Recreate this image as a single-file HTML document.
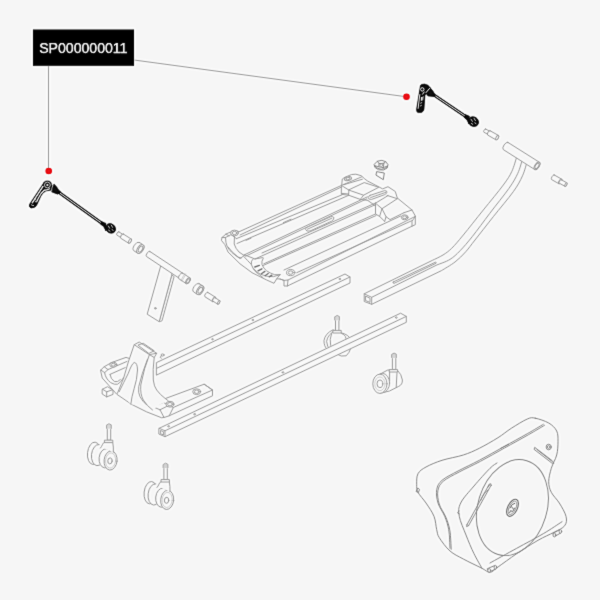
<!DOCTYPE html>
<html>
<head>
<meta charset="utf-8">
<title>SP000000011</title>
<style>
html,body{margin:0;padding:0;width:600px;height:600px;overflow:hidden;background:#f6f6f6;}
#stage{position:relative;width:600px;height:600px;background:#f6f6f6;overflow:hidden;}
#art{position:absolute;left:0;top:0;}
.g{fill:none;stroke:#a0a0a0;stroke-width:0.95;stroke-linejoin:round;stroke-linecap:round;}
.gf{fill:#f6f6f6;stroke:#a0a0a0;stroke-width:0.95;stroke-linejoin:round;stroke-linecap:round;}
.gl{fill:none;stroke:#b8b8b8;stroke-width:0.6;stroke-linejoin:round;stroke-linecap:round;}
.k{fill:#111;stroke:#111;stroke-width:0.6;stroke-linejoin:round;}
.w{fill:none;stroke:#f6f6f6;stroke-width:0.7;stroke-linecap:round;}
.lead{fill:none;stroke:#929292;stroke-width:0.8;}
.bag .g,.bag .gf{stroke:#8e8e8e;}
.dot{fill:#e8141c;}
#tagtxt{font-family:"Liberation Sans",sans-serif;font-size:14.2px;fill:#fff;stroke:#fff;stroke-width:0.25px;letter-spacing:-0.05px;}
</style>
</head>
<body>
<div id="stage">
<svg id="art" width="600" height="600" viewBox="0 0 600 600">
<defs>
<filter id="sharp" x="-20" y="-20" width="640" height="640" filterUnits="userSpaceOnUse" color-interpolation-filters="sRGB">
<feGaussianBlur in="SourceGraphic" stdDeviation="1.2" result="b"/>
<feComposite in="SourceGraphic" in2="b" operator="arithmetic" k1="0" k2="1.5" k3="-0.5" k4="0" result="s"/>
<feConvolveMatrix in="s" order="3" kernelMatrix="0.025 0.085 0.025 0.085 0.56 0.085 0.025 0.085 0.025" divisor="1" edgeMode="duplicate" preserveAlpha="true"/>
</filter>
</defs>
<g filter="url(#sharp)">
<rect x="-20" y="-20" width="640" height="640" fill="#f6f6f6"/>
<g id="leaders">
<line class="lead" x1="48.5" y1="66" x2="48.5" y2="168"/>
<line class="lead" x1="134" y1="60" x2="403.5" y2="96.4"/>
<circle class="dot" cx="48.7" cy="171" r="3.3"/>
<circle class="dot" cx="406.5" cy="96.7" r="3.3"/>
</g>
<g id="gray">
<g id="adapter1"><path class="gf" d="M118.8 231.8 L123 234.5 A0.9 1.9 32.5 0 1 121 237.7 L116.8 235 A0.9 1.9 32.5 0 1 118.8 231.8 Z"/>
<ellipse class="gf" cx="122" cy="236.1" rx="0.9" ry="1.9" transform="rotate(32.5 122 236.1)"/>
<path class="gf" d="M123.3 234 L131.3 239.1 A1.1 2.5 32.5 0 1 128.6 243.2 L120.7 238.2 A1.1 2.5 32.5 0 1 123.3 234 Z"/>
<ellipse class="gf" cx="129.9" cy="241.1" rx="1.1" ry="2.5" transform="rotate(32.5 129.9 241.1)"/></g>
<g id="spacer1"><path class="gf" d="M139.3 242.4 L143 244.7 A2.8 5 32.5 0 1 137.6 253.2 L133.9 250.8 A2.8 5 32.5 0 1 139.3 242.4 Z"/>
<ellipse class="gf" cx="140.3" cy="249" rx="2.8" ry="5" transform="rotate(32.5 140.3 249)"/><ellipse class="g" cx="140.5" cy="249.1" rx="1.8" ry="3.3" transform="rotate(32.5 140.5 249.1)"/></g>
<g id="tpost"><path class="gf" d="M174 277 L162 320.8 L159.2 321.7 L171.7 275.3 Z"/><path class="gf" d="M160.7 266 L147.2 314.2 L159.2 321.7 L171.7 275.3 L172 272 Z"/><circle class="g" cx="155.3" cy="308.3" r="0.8"/></g>
<g id="ttube"><path class="gf" d="M149.9 251.5 L182.4 273 A1.4 3 33.5 0 1 179 278.1 L146.5 256.5 A1.4 3 33.5 0 1 149.9 251.5 Z"/><path class="gf" d="M182.6 273.1 L189.9 277.9 A1.7 3.4 33.5 0 1 186.2 283.6 L178.8 278.7 A1.7 3.4 33.5 0 1 182.6 273.1 Z"/>
<ellipse class="gf" cx="188" cy="280.8" rx="1.7" ry="3.4" transform="rotate(33.5 188 280.8)"/><ellipse class="g" cx="188.2" cy="280.9" rx="1.2" ry="2.4" transform="rotate(33.5 188.2 280.9)"/><path class="gl" d="M184.9 273.4 L180.9 280.5 M185.9 274.1 L181.9 281.2"/></g>
<g id="spacer2"><path class="gf" d="M199.1 283.6 L202.8 285.9 A2.8 5 32.5 0 1 197.4 294.4 L193.7 292 A2.8 5 32.5 0 1 199.1 283.6 Z"/>
<ellipse class="gf" cx="200.1" cy="290.2" rx="2.8" ry="5" transform="rotate(32.5 200.1 290.2)"/><ellipse class="g" cx="200.3" cy="290.3" rx="1.8" ry="3.3" transform="rotate(32.5 200.3 290.3)"/></g>
<g id="adapter2"><path class="gf" d="M207.8 292.4 L215.4 297.2 A1.2 2.6 32.5 0 1 212.6 301.6 L205 296.8 A1.2 2.6 32.5 0 1 207.8 292.4 Z"/>
<ellipse class="gf" cx="214" cy="299.4" rx="1.2" ry="2.6" transform="rotate(32.5 214 299.4)"/>
<path class="gf" d="M215.1 297.7 L219.8 300.8 A0.9 2 32.5 0 1 217.6 304.1 L212.9 301.1 A0.9 2 32.5 0 1 215.1 297.7 Z"/>
<ellipse class="gf" cx="218.7" cy="302.4" rx="0.9" ry="2" transform="rotate(32.5 218.7 302.4)"/></g>
<g id="tray"><path class="gf" d="M221.5 240 L222 237.5 L226 234 L231.5 231.6 L236 230.4 L239 231.8 L341.7 185.3 L342.3 179 L345 177.2 L351.6 174.5 L355.8 174.2 L361.2 175.7 L364.2 178.4 L367.2 180.8 L382.7 188.9 L388 186.7 L395.3 191.5 L397.3 198 L412 210 L415.3 216 L415.3 224.7 L412 226.2 L287.4 286 L284 286 L284 280.4 L280 279 L276.7 278.8 L274 283.3 L266.7 280 L252 272.7 L240 263.8 L228 252 L225 245 Z"/>
<line class="g" x1="240" y1="235" x2="341.7" y2="186.9"/>
<line class="g" x1="236.5" y1="238.6" x2="341.6" y2="195"/>
<line class="g" x1="237" y1="243.5" x2="348.5" y2="195.4"/>
<line class="g" x1="244" y1="255" x2="367.4" y2="196.8"/>
<line class="g" x1="245.6" y1="256.2" x2="366.8" y2="198.8"/>
<line class="g" x1="262" y1="253" x2="375.5" y2="203"/>
<line class="g" x1="255" y1="259" x2="375.5" y2="204.6"/>
<line class="g" x1="263.8" y1="263.8" x2="375.5" y2="214"/>
<line class="g" x1="263.3" y1="265.4" x2="376" y2="215.6"/>
<line class="g" x1="284" y1="270" x2="400.7" y2="216"/>
<line class="g" x1="296.7" y1="272.7" x2="412" y2="220.6"/>
<line class="g" x1="288" y1="280" x2="415.3" y2="216.4"/>
<path class="g" d="M225.5 237.5 Q225.6 243 227 246 Q229 250 232 252.6 Q236 256 240 258.5 L245 255"/>
<path class="g" d="M228 247 Q232 252.5 238 257 L241 258.2"/>
<path class="g" d="M234.5 236 L234.2 244 Q235.5 248.5 239 252 L244 255.4"/>
<path class="g" d="M222 237.5 L225.5 237.5 L231 234.6 L236.5 238.6 M226 234 L229 236"/>
<ellipse class="gf" cx="234.5" cy="233" rx="3.9" ry="2.9"/><ellipse class="g" cx="234.5" cy="233" rx="2.3" ry="1.6"/>
<path class="g" d="M245 255 L255 259 L262.5 257.6"/>
<path class="g" d="M253.3 258.7 Q250.6 261 251.3 264.4 Q252.6 268.6 256 272 Q259.6 275 263 277.6"/>
<path class="g" d="M263.3 258 Q261.2 261.4 262 264.7 Q263.6 268.6 266.7 270.9 Q270 273.2 274.7 274.7 L280 274.7"/>
<path class="g" d="M244 256.7 Q247.6 260.6 251.3 264.4 M253.3 268.7 Q256.6 272 260 274 Q266 277 273.3 276.7 L280 274.7"/>
<path fill="none" stroke="#7e7e7e" stroke-width="1.35" stroke-linecap="round" d="M254.8 267 L259.4 265.4 M258 270.8 L261.9 268.8 M261.4 273.7 L264.9 271.4 M265.1 275.7 L268.2 273.5 M269.3 276.9 L271.9 275.1"/>
<path class="g" d="M276.7 278.8 L280 274.7 M284 280.4 L288 280 L287.4 286 M280 279 L284 280.4"/>
<ellipse class="gf" cx="290.7" cy="272.6" rx="4.2" ry="3.1"/><ellipse class="g" cx="290.7" cy="272.6" rx="2.5" ry="1.7"/>
<path class="gf" d="M306.4 227.6 L331 216.6 Q334.6 216.2 333.6 219 Q333 220.4 331.6 221.2 L310 231 Q306 231.8 305.6 229.4 Q305.6 228.2 306.4 227.6 Z"/>
<path class="g" d="M307.4 229.2 L331.8 218.2"/>
<path class="g" d="M283.4 222.6 L291 219.2 M246 240.4 L251 238.2"/>
<path class="g" d="M341.7 185.3 L361.8 176.8 M341.7 185.6 L348.9 190.1 L348.6 195.2 L341.7 194.4 Z M343.8 184.7 L362.4 179.2 M341.7 193.4 L348.6 194"/>
<path class="g" d="M348.9 190.1 L363.6 195.2 L378.7 187.3 L364.6 182.7 Z M348.6 195.2 L360.3 199.4 L363.6 195.2 M360.3 199.4 L368 200.4"/>
<ellipse class="gf" cx="348" cy="178.7" rx="3.6" ry="1.9" transform="rotate(-14 348 178.7)"/><ellipse class="g" cx="348" cy="178.7" rx="2.1" ry="1.1" transform="rotate(-14 348 178.7)"/>
<path class="gf" d="M370 195.4 L384.6 190.6 Q387.6 190.6 386.8 192.8 Q386 194 384.8 194.6 L371.6 199.4 Q368.4 199.8 368.2 197.6 Q368.4 196 370 195.4 Z"/>
<path class="g" d="M370.6 197.6 L385.6 192.4"/>
<path class="g" d="M368 200.6 L374.7 205.3 M387 195.4 L397.3 198.7"/>
<path class="g" d="M375.5 203.2 L382 208.7 L386 216.7 L390 219.6 L404 212.7 M382 208.7 L397.3 198.7 M375.5 203.2 L375.5 214 L379.6 216.4 L384.7 221.4 M379.6 216.4 L382 208.7 M384.7 221.4 L386 216.7 M375.5 203.2 L388 195.6"/>
<path class="g" d="M404 212.7 L412 210 M412 226.2 L412 221.3 L415.3 216.4"/>
<ellipse class="gf" cx="404.7" cy="217.3" rx="3.4" ry="2.5"/><ellipse class="g" cx="404.7" cy="217.3" rx="2" ry="1.4"/></g>
<g id="caster3"><g><path class="gf" d="M332.6 330 Q325.2 333.4 324 340.4 Q323.8 346.4 327.6 349.8 L341.2 356 L346.2 355.8 Q352.8 349.4 350.8 339.4 Q348.2 334.4 341.8 333 Z"/><path class="g" d="M334.8 330.8 Q327.6 334.4 326.6 341.4 Q326.8 346.4 330.2 350"/><path class="g" d="M331.6 333.4 Q329.2 339.4 330.6 345.4"/><path class="g" d="M341.6 333.4 Q347.2 335.4 345.8 341.4 Q344.2 345.4 340.2 347.4"/><path class="gf" d="M335 316.6 Q337.2 314.2 339.4 316.6 L339.4 320.2 L338.9 320.8 L338.9 331.9 L335.5 331.9 L335.5 320.8 L335 320.2 Z"/><path class="gl" d="M335 316.8 h4.4 M335 317.8 h4.4 M335 318.8 h4.4 M335 319.8 h4.4"/><path class="gf" d="M333.2 330.4 h8 v2.6 h-8 Z"/></g></g>
<g id="railU"><path class="gf" d="M156.7 362.5 L345 274 L350 277 L350 283 L156.7 375 Z"/><path class="g" d="M156.7 368.3 L350 277 M340 279 m-0.8 0 a0.8 0.6 0 1 0 1.6 0 a0.8 0.6 0 1 0 -1.6 0 M253 320 m-0.8 0 a0.8 0.6 0 1 0 1.6 0 a0.8 0.6 0 1 0 -1.6 0 M212.6 339.2 m-0.8 0 a0.8 0.6 0 1 0 1.6 0 a0.8 0.6 0 1 0 -1.6 0"/></g>
<g id="forkmount"><path class="gf" d="M102.5 389.2 L107.5 386.7 L113 390 L113 394.4 L106.7 396.9 L102.5 394.2 Z"/><path class="g" d="M102.5 389.2 L106.7 391.8 L106.7 396.9 M106.7 391.8 L113 389.6"/><path class="gf" d="M100.8 370 L104.2 366.7 L111.7 362.5 L126 357.4 L134 360 L140 392 L159.2 400.8 L204.2 384.2 L212.5 390 L212.5 395.8 L169.2 415.8 L165 417.2 L161.7 417.8 L146.7 411.9 L131.7 404.4 L116.7 394.2 L102.5 378.3 Z"/><path class="g" d="M212.5 390 L173.3 407.5 L169.2 415.8 M173.3 407.5 L168 405 M204.2 384.2 L212.5 390"/><path class="g" d="M158 404.6 L163.6 402.4 L167.4 405 M152.6 406.6 L160 409.8 L164 417.4 M160 409.8 L168.4 405.6"/><ellipse class="gf" cx="170" cy="404.2" rx="4" ry="2.9" transform="rotate(0 170 404.2)"/><ellipse class="g" cx="170" cy="404.2" rx="2.4" ry="1.7" transform="rotate(0 170 404.2)"/><ellipse class="gf" cx="196.7" cy="391.7" rx="4" ry="2.9" transform="rotate(0 196.7 391.7)"/><ellipse class="g" cx="196.7" cy="391.7" rx="2.4" ry="1.7" transform="rotate(0 196.7 391.7)"/><path class="g" d="M104.2 366.7 L108 369.6 L127 361.4 M100.8 370 L104.6 372.6 L108 369.6 M104.6 372.6 Q105.4 378.6 110.6 382.6 Q114.6 385 117.6 384.2 Q121 382.4 123.6 377.6"/><path class="g" d="M110 374.4 Q110.6 379 114.4 381.6 Q117.6 382.6 120.4 379.6 M110 374.4 L125.2 367.6"/><ellipse class="gf" cx="113.3" cy="364.7" rx="3.6" ry="2.5" transform="rotate(0 113.3 364.7)"/><ellipse class="g" cx="113.3" cy="364.7" rx="2.1" ry="1.4" transform="rotate(0 113.3 364.7)"/><path fill="#f6f6f6" stroke="none" d="M134.2 344.7 L139.2 342 L156.7 353.3 L154.2 357.5 Q152.6 370 153.3 380 Q154 386.6 156.7 390 Q160 394.6 165 398.3 L168.3 400.8 L160 404.6 L152.5 410 L131 404 L118 392.6 Q124.6 378 128.3 362 Z"/><path class="g" d="M117.4 393.4 Q124.6 378 128.3 362 L134.2 344.7 L139.2 342 L156.7 353.3 L154.2 357.5 Q152.6 370 153.3 380 Q154 386.6 156.7 390 Q160 394.6 165 398.3 L168.3 400.8"/><path class="g" d="M149.4 354.6 Q144 368 140.8 385 Q140 394 143.3 400 Q147 406 152.5 410"/><path class="g" d="M147.5 359.2 Q141.6 374 138.7 386.7 Q138 393 140 396.7 Q142.6 401.6 146.7 405"/><path class="g" d="M134.2 344.7 L149.4 354.6 L156.7 353.3 M149.4 354.6 L154.2 357.5"/><path class="g" d="M138.3 345 L143.3 343.3 L154.2 350.8 L149.2 353.3 Z"/><path class="g" d="M119.2 391.7 Q124 382 128.3 373.3 Q131.6 364 134.2 362.5 Q137.4 362.6 137.5 370 Q137 380 134.2 388.3 Q131.6 397 130.8 404.2"/><ellipse class="gf" cx="162.6" cy="355" rx="1.5" ry="1.1" transform="rotate(0 162.6 355)"/><path class="g" d="M161.4 355.6 L160.2 357.4 L161.4 358.2"/></g>
<g id="handle"><path class="gf" d="M516.9 156.4 C516 158.9 514 166.9 511.7 171.7 C509.4 176.5 508 178.6 503.3 185 C498.6 191.4 490 201.7 483.3 210 C476.6 218.3 468.6 228.6 463.3 235 C458 241.4 455.1 245 451.7 248.3 C448.3 251.6 446.2 253 443 255 C439.8 257 434.1 259.5 432.3 260.4 L364.2 293.8 L364.2 301.5 L371.7 304.3 L441.7 270.5 L441.7 270.5 C443.9 269.1 451 265.1 455 262 C459 258.9 462.5 255.4 465.8 251.7 C469.1 248 470.4 245.8 475 240 C479.6 234.2 486.9 224.8 493.3 216.7 C499.7 208.6 508.4 198.5 513.3 191.7 C518.2 184.9 520.2 180.8 522.5 175.8 C524.8 170.9 526.2 164.3 527 162 Z"/><path class="g" d="M522.6 158.6 C521.8 161.1 520.1 168.4 517.8 173.3 C515.5 178.2 513.7 181.6 509 188.3 C504.3 195 495.9 205.2 489.8 213.3 C483.7 221.4 477.2 230.4 472.2 236.7 C467.2 242.9 463.7 247 460 250.8 C456.3 254.6 453.8 257 450 259.4 C446.2 261.8 439.2 264 437 264.9 L371.7 297.3"/><path class="g" d="M364.2 293.8 L371.7 297.3 L371.7 304.3 M365.8 296.2 L370 298.2 L370 302.4 L365.8 300.6 Z"/><path class="g" d="M393.2 282 L435.4 262.2 Q436.8 262.2 436 263.3 L394 283.4 Q392.4 283.2 393.2 282 Z"/><path class="gf" d="M507.9 142.4 L539.3 162.2 A2.1 4.3 32.3 0 1 534.7 169.5 L503.3 149.6 A2.1 4.3 32.3 0 1 507.9 142.4 Z"/>
<ellipse class="gf" cx="537" cy="165.9" rx="2.1" ry="4.3" transform="rotate(32.3 537 165.9)"/><ellipse class="g" cx="537" cy="165.9" rx="1.5" ry="3.1" transform="rotate(32.3 537 165.9)"/></g>
<g id="adapter3"><path class="gf" d="M485.7 129 L489.7 131.3 A0.8 1.8 29.5 0 1 487.9 134.4 L483.9 132.2 A0.8 1.8 29.5 0 1 485.7 129 Z"/>
<ellipse class="gf" cx="488.8" cy="132.9" rx="0.8" ry="1.8" transform="rotate(29.5 488.8 132.9)"/>
<path class="gf" d="M490 130.7 L498.4 135.4 A1.1 2.5 29.5 0 1 495.9 139.8 L487.6 135 A1.1 2.5 29.5 0 1 490 130.7 Z"/>
<ellipse class="gf" cx="497.2" cy="137.6" rx="1.1" ry="2.5" transform="rotate(29.5 497.2 137.6)"/></g>
<g id="adapter4"><path class="gf" d="M554.1 174.9 L561.6 179.1 A1.2 2.7 29.5 0 1 559 183.8 L551.5 179.5 A1.2 2.7 29.5 0 1 554.1 174.9 Z"/>
<ellipse class="gf" cx="560.3" cy="181.4" rx="1.2" ry="2.7" transform="rotate(29.5 560.3 181.4)"/>
<path class="gf" d="M561.3 179.7 L566.8 182.8 A0.9 2 29.5 0 1 564.9 186.3 L559.3 183.2 A0.9 2 29.5 0 1 561.3 179.7 Z"/>
<ellipse class="gf" cx="565.9" cy="184.6" rx="0.9" ry="2" transform="rotate(29.5 565.9 184.6)"/></g>
<g id="nut"><path class="gf" style="stroke:#8c8c8c" d="M377 171.7 L384.3 173 L383.3 179.7 L376.3 175.3 Z"/><path class="gf" style="stroke:#8c8c8c" d="M374.4 164.2 L377.4 161.2 L381.8 160.4 L385.6 161.6 L388 164.6 L387.2 168 L383.4 170 L378.6 169.8 L375.2 167.6 Z"/><path class="g" style="stroke:#8c8c8c" d="M375 166.2 Q381 172.4 387.6 166.6 M377.4 161.2 L379 163.6 L384 163.2 L385.6 161.6 M379 163.6 L378.8 166.8 L383.2 167.6 L384 163.2 M374.6 165.6 L378.8 166.8 M383.2 167.6 L387.4 166"/><ellipse class="g" cx="381.3" cy="165.2" rx="1.6" ry="1.2" transform="rotate(0 381.3 165.2)"/></g>
<g id="railL"><path class="gf" d="M159.2 428.3 L400.6 313.2 L406.3 316.4 L406.3 322.3 L165 436.7 L159.2 434.2 Z"/><path class="g" d="M159.2 428.3 L165 430.8 L165 436.7 M165 430.8 L406.3 316.4 M160.8 430.6 L163.6 431.8 L163.6 435 L160.8 433.8 Z"/><path class="g" d="M396.3 317.6 m-0.9 0 a0.9 0.7 0 1 0 1.8 0 a0.9 0.7 0 1 0 -1.8 0 M168.7 426.3 m-0.9 0 a0.9 0.7 0 1 0 1.8 0 a0.9 0.7 0 1 0 -1.8 0 M194.7 414.2 m-0.9 0 a0.9 0.7 0 1 0 1.8 0 a0.9 0.7 0 1 0 -1.8 0 M283 372.4 m-0.9 0 a0.9 0.7 0 1 0 1.8 0 a0.9 0.7 0 1 0 -1.8 0"/></g>
<g id="caster1"><g><ellipse class="gf" cx="94" cy="453.3" rx="6.5" ry="11.2" transform="rotate(6 94 453.3)"/><ellipse class="gf" cx="98" cy="455.1" rx="6.5" ry="10.6" transform="rotate(6 98 455.1)"/><path fill="#f6f6f6" stroke="none" d="M99.5 444.2 L100 465.7 L112.6 467.7 L112.6 442.3 Z"/><ellipse class="gf" cx="105.6" cy="458.3" rx="6.5" ry="9.6" transform="rotate(6 105.6 458.3)"/><ellipse class="gf" cx="110.6" cy="460.5" rx="6.5" ry="9.6" transform="rotate(6 110.6 460.5)"/><ellipse class="gl" cx="110.6" cy="460.5" rx="5" ry="7.6" transform="rotate(6 110.6 460.5)"/><ellipse class="g" cx="110" cy="460.9" rx="2.2" ry="3" transform="rotate(6 110 460.9)"/><path fill="#f6f6f6" stroke="none" d="M103.4 442.1 L100.2 446.7 L113.3 452.3 L112.8 442.3 Z"/><path class="g" d="M104.6 442.3 Q102.8 442.9 102.4 444.7 Q101.6 446.7 100.4 448.1 M112.8 442.7 Q113.6 446.7 113.4 452.1"/><path class="gf" d="M106.8 424.9 Q109 422.5 111.2 424.9 L111.2 428.5 L110.7 429.1 L110.7 440.2 L107.3 440.2 L107.3 429.1 L106.8 428.5 Z"/><path class="gl" d="M106.8 425.1 h4.4 M106.8 426.1 h4.4 M106.8 427.1 h4.4 M106.8 428.1 h4.4"/><path class="gf" d="M104.8 440.2 h8 v2.4 h-8 Z"/></g></g>
<g id="caster2"><g><ellipse class="gf" cx="150.6" cy="492.7" rx="6.5" ry="11.2" transform="rotate(6 150.6 492.7)"/><ellipse class="gf" cx="154.6" cy="494.5" rx="6.5" ry="10.6" transform="rotate(6 154.6 494.5)"/><path fill="#f6f6f6" stroke="none" d="M156.1 483.6 L156.6 505.1 L169.2 507.1 L169.2 481.7 Z"/><ellipse class="gf" cx="162.2" cy="497.7" rx="6.5" ry="9.6" transform="rotate(6 162.2 497.7)"/><ellipse class="gf" cx="167.2" cy="499.9" rx="6.5" ry="9.6" transform="rotate(6 167.2 499.9)"/><ellipse class="gl" cx="167.2" cy="499.9" rx="5" ry="7.6" transform="rotate(6 167.2 499.9)"/><ellipse class="g" cx="166.6" cy="500.3" rx="2.2" ry="3" transform="rotate(6 166.6 500.3)"/><path fill="#f6f6f6" stroke="none" d="M160 481.5 L156.8 486.1 L169.9 491.7 L169.4 481.7 Z"/><path class="g" d="M161.2 481.7 Q159.4 482.3 159 484.1 Q158.2 486.1 157 487.5 M169.4 482.1 Q170.2 486.1 170 491.5"/><path class="gf" d="M163.4 464.3 Q165.6 461.9 167.8 464.3 L167.8 467.9 L167.3 468.5 L167.3 479.6 L163.9 479.6 L163.9 468.5 L163.4 467.9 Z"/><path class="gl" d="M163.4 464.5 h4.4 M163.4 465.5 h4.4 M163.4 466.5 h4.4 M163.4 467.5 h4.4"/><path class="gf" d="M161.4 479.6 h8 v2.4 h-8 Z"/></g></g>
<g id="caster4"><g><path class="gf" d="M379.9 374.2 L387.8 370 L397.8 370.8 Q401.4 374 402.4 380 Q402.6 384.6 398.7 386.4 L389.5 391 L379.9 393.3 L374 384 Z"/><path class="g" d="M389.6 371.8 L389.6 381 M397 372.6 L396.2 387.4"/><ellipse class="gf" cx="382.5" cy="383" rx="7.1" ry="9.6" transform="rotate(0 382.5 383)"/><ellipse class="gf" cx="379.9" cy="383.8" rx="7.1" ry="9.6" transform="rotate(0 379.9 383.8)"/><ellipse class="gl" cx="379.9" cy="383.8" rx="5.1" ry="6.9" transform="rotate(0 379.9 383.8)"/><ellipse class="g" cx="379.9" cy="383.8" rx="2.9" ry="3.8" transform="rotate(0 379.9 383.8)"/><path class="gf" d="M391.9 354.2 Q394.1 351.8 396.3 354.2 L396.3 357.8 L395.8 358.4 L395.8 369.5 L392.4 369.5 L392.4 358.4 L391.9 357.8 Z"/><path class="gl" d="M391.9 354.4 h4.4 M391.9 355.4 h4.4 M391.9 356.4 h4.4 M391.9 357.4 h4.4"/><path class="gf" d="M389.6 369.6 h8 v2.4 h-8 Z"/></g></g>
<g id="bag" class="bag"><path class="gf" d="M535.3 418.2 C531.7 417.5 531.3 417.3 527.3 419 C523.3 420.7 516.2 425.2 511.3 428.3 C506.4 431.4 503.3 434.4 498 437.7 C492.7 441 485.1 445.4 479.3 448.3 C473.5 451.2 469.5 453 463.3 455 C457.1 457 448.2 458.3 442 460.3 C435.8 462.3 430 464.8 426 467 C422 469.2 419.6 470.8 418 473.7 C416.4 476.6 416.7 481.2 416.7 484.3 C416.7 487.4 416.4 489.2 418 492.3 C419.6 495.4 423.3 499 426 503 C428.7 507 432.2 511.8 434 516.3 C435.8 520.8 435.8 526.1 436.7 529.7 C437.6 533.3 437.1 534.2 439.3 537.7 C441.5 541.2 446 547.5 450 551 C454 554.5 458 556.1 463.3 559 C468.6 561.9 477.6 566.1 482 568.3 C486.4 570.5 487.3 572.5 490 572.3 C492.7 572.1 493.6 570.1 498 567 C502.4 563.9 510 558.2 516.7 553.7 C523.4 549.2 531.8 543.9 538 540.3 C544.2 536.7 549.5 534.7 554 532.3 C558.5 529.9 562.7 528.4 564.7 525.7 C566.7 523 566.9 520.1 566 516.3 C565.1 512.5 561.8 507 559.3 503 C556.8 499 553.1 495.9 551.3 492.3 C549.5 488.8 548.7 485.7 548.7 481.7 C548.7 477.7 550 472.8 551.3 468.3 C552.6 463.9 555.6 459.4 556.7 455 C557.8 450.6 558 445.7 558 441.7 C558 437.7 558.2 434.1 556.7 431 C555.2 427.9 552.3 425.1 548.7 423 C545.1 420.9 538.9 418.9 535.3 418.2 Z"/><path class="g" d="M543.3 424.3 C540.6 425.9 534 429.9 527.3 433.7 C520.6 437.5 511.3 442.6 503.3 447 C495.3 451.4 486.9 456.3 479.3 460.3 C471.8 464.3 464.2 467.7 458 471 C451.8 474.3 445.6 477.2 442 480.3 C438.4 483.4 437.4 485.9 436.7 489.7 C436 493.5 436.7 498.6 438 503 C439.3 507.4 442.9 511.8 444.7 516.3 C446.5 520.8 447.8 524.4 448.7 529.7 C449.6 535 449.8 545.2 450 548.3"/><path class="g" d="M544.5 425.3 C541.8 426.9 535.2 430.9 528.5 434.7 C521.8 438.5 512.5 443.6 504.5 448 C496.5 452.4 488.1 457.3 480.5 461.3 C472.9 465.3 465.4 468.7 459.2 472 C453 475.3 446.8 478.2 443.2 481.3 C439.6 484.4 438.6 486.9 437.9 490.7 C437.2 494.5 437.9 499.6 439.2 504 C440.5 508.4 444.1 512.8 445.9 517.3 C447.7 521.8 449 525.4 449.9 530.7 C450.8 536 451 546.2 451.2 549.3"/><path class="g" d="M497 463 C495.8 463.9 493.8 464.5 490 468.3 C486.2 472.1 478.9 480.2 474 486 C469.1 491.8 463.1 497.9 460.7 503 C458.2 508.1 458.4 511 459.3 516.3 C460.2 521.6 463.6 528.8 466 535 C468.4 541.2 471.3 548.2 474 553.7 C476.7 559.2 480.7 565.9 482 568.3"/><path class="g" d="M490 563 C494.4 560.5 507.8 553.2 516.7 548.3 C525.6 543.4 535.8 538.1 543.3 533.7 C550.8 529.3 558.9 523.7 562 521.7"/><ellipse class="g" cx="512.4" cy="507.6" rx="34.5" ry="49" transform="rotate(17 512.4 507.6)"/><ellipse cx="512.5" cy="507.8" rx="4.8" ry="9.2" transform="rotate(26 512.5 507.8)" fill="none" stroke="#777" stroke-width="1.1"/><ellipse cx="512.5" cy="507.8" rx="3.3" ry="7.3" transform="rotate(26 512.5 507.8)" fill="none" stroke="#8a8a8a" stroke-width="0.8"/><path fill="none" stroke="#777" stroke-width="1" stroke-linecap="round" d="M510 508 Q511.6 503.6 514.8 503.2 M509.6 512.8 L510.6 510.6 L512.6 511.6 L514.6 508 M511.4 506.6 L513.4 509"/><path class="g" d="M489.4 484 L467 524.6 M491 485.4 L468.6 525.6 M487.6 487.6 L490.6 483.6 L491.4 485.6 M467 524.6 L466.6 526.6 L468.6 525.6"/><path class="g" d="M488 490 Q484 492 480.6 500.6 M459 511 L457.6 513 L459.4 514"/><path class="g" d="M535 447.6 L552.6 461 L553.8 463.4 L551.8 463 L534.4 449.6 Z M537 449.6 L551.6 461"/><ellipse class="g" cx="548.7" cy="447" rx="2.6" ry="2.8" transform="rotate(0 548.7 447)"/><ellipse class="g" cx="548.7" cy="447" rx="1.3" ry="1.4" transform="rotate(0 548.7 447)"/><path class="g" style="stroke:#8c8c8c;stroke-width:1" d="M500.7 448.3 L508.7 444.3"/><path class="g" d="M417.6 488.4 L416 491.4 L418.4 492.6 L419.4 489.8 Z"/><path class="gf" d="M487.6 568.6 L494.6 565.6 L496.2 568.6 L489.4 572 Z"/><ellipse class="gf" cx="489.2" cy="570.4" rx="1.4" ry="1.9" transform="rotate(0 489.2 570.4)"/><ellipse class="gf" cx="495.4" cy="567.2" rx="1.3" ry="1.8" transform="rotate(0 495.4 567.2)"/><path class="gf" d="M553.2 533.2 L559.6 529.8 L561 532.8 L554.8 536.4 Z"/><ellipse class="gf" cx="554.4" cy="535" rx="1.4" ry="1.9" transform="rotate(0 554.4 535)"/><ellipse class="gf" cx="560.4" cy="531.4" rx="1.3" ry="1.8" transform="rotate(0 560.4 531.4)"/></g>
</g>
<g id="dark">
<g id="skewerL">
<path class="k" d="M44.2 182.2 L29.6 204.2 Q28.6 207.2 31.2 208 L34.2 207.4 Q36.2 206.6 37 204.6 L40.8 196.2 Q42.6 192.4 45.8 191 L51.6 190 L52.4 186 Z"/>
<circle class="k" cx="47.4" cy="185" r="4.1"/>
<path class="k" d="M51.4 186.6 L54.2 184.2 Q57 186.8 58.8 190.2 L60.4 191.5 L58 194.2 L55.6 193.4 L51.4 191.8 Z"/>
<line x1="58.4" y1="192" x2="103.2" y2="224.2" stroke="#111" stroke-width="2.9"/>
<line x1="60" y1="193.15" x2="102" y2="223.35" stroke="#ececec" stroke-width="0.95"/>
<path class="k" d="M101.6 221.6 L106 223.4 L106 231 L103.6 226.6 L100.4 224 Z"/>
<ellipse class="k" cx="110.6" cy="228.4" rx="5.3" ry="4.5" transform="rotate(38 110.6 228.4)"/>
<circle cx="47.4" cy="185" r="2.9" fill="none" stroke="#f6f6f6" stroke-width="0.75"/>
<circle cx="47.4" cy="185" r="1.1" fill="#f6f6f6"/>
<path d="M52.8 185.4 Q51.4 188 51.6 191.2" fill="none" stroke="#f6f6f6" stroke-width="0.65" stroke-linecap="round"/>
<path d="M43 186.4 L32.2 202.8" fill="none" stroke="#f6f6f6" stroke-width="1.3" stroke-linecap="round"/>
<path d="M49.6 188.8 Q46.4 190.4 44.4 190 Q41 192.6 38.2 198.4 L36.8 201.6" fill="none" stroke="#f6f6f6" stroke-width="1.15" stroke-linecap="round"/>
<path class="w" d="M35.4 199 L36 200 M35.2 201.2 L35.8 202.2 M31.2 204.8 Q32.2 205.8 33.6 205.6"/>
<path class="w" d="M108.4 226 L109.6 228.2 M111.2 225 L112.6 227.4 M108.6 230.2 L110 231.2 M112 229.6 L113.2 230.4"/>
</g>
<g id="skewerR">
<path class="k" d="M420.4 85.6 L416.5 109.6 Q416.4 112.2 418.2 112.6 L421.4 112.6 Q423.4 111.8 424 109.2 L425 95 L427 93.6 L430.4 88 L428 85.2 L424.6 84 L421.6 84.4 Z"/>
<path class="k" d="M426.2 93.4 L430.2 87.8 Q433 90.6 434.9 94.4 L433.6 96.6 L428 96 Z"/>
<line x1="433.6" y1="94.8" x2="466.8" y2="117.2" stroke="#111" stroke-width="2.9"/>
<line x1="435.4" y1="96" x2="465.6" y2="116.4" stroke="#ececec" stroke-width="0.95"/>
<path class="k" d="M465.4 114.6 L469.4 116.2 L469 124 L467 120 L464.2 117.4 Z"/>
<ellipse class="k" cx="473.4" cy="121.6" rx="5.4" ry="4.7" transform="rotate(35 473.4 121.6)"/>
<path d="M429.6 88.4 L426 92.6" fill="none" stroke="#f6f6f6" stroke-width="0.9" stroke-linecap="round"/>
<circle cx="422.3" cy="89.4" r="1.7" fill="none" stroke="#f6f6f6" stroke-width="0.9"/><path class="w" style="stroke-width:0.9" d="M424.2 92 L422.6 94.2"/>
<path d="M421.9 97 L421.4 100.6" fill="none" stroke="#f6f6f6" stroke-width="1.4"/>
<path class="w" style="stroke-width:0.9" d="M419.8 94.6 L418.1 108.4"/>
<path class="w" d="M420.6 103.2 L421.8 102.6 M420.3 106 L421.4 105.4 M423.2 96.6 L422.8 100"/>
<path class="w" d="M471 119.2 L472.4 121.4 M474 118.2 L475.4 120.6 M471.4 123.4 L472.8 124.4 M474.8 122.8 L476 123.6"/>
</g>
</g>
<g id="tag">
<rect x="33" y="29.5" width="101" height="36.25" fill="#000"/>
<text id="tagtxt" x="83.3" y="53.4" text-anchor="middle">SP000000011</text>
</g>
</g>
</svg>
</div>
</body>
</html>
